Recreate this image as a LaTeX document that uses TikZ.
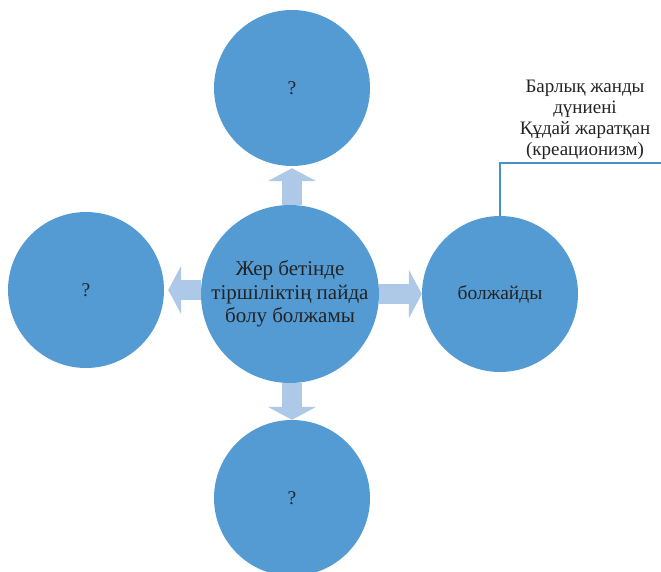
\documentclass[tikz,border=0pt]{standalone}
\usepackage{fontspec}
\setmainfont{Liberation Serif}
\usetikzlibrary{positioning}
\usetikzlibrary{arrows.meta}

\definecolor{ballblue}{RGB}{84,155,212}
\definecolor{arrowblue}{RGB}{174,200,232}
\definecolor{lineblue}{RGB}{74,144,200}
\definecolor{textgray}{RGB}{35,35,35}

\begin{document}
\begin{tikzpicture}[x=1pt, y=-1pt,
    ball/.style={circle, fill=ballblue, minimum size=156pt, inner sep=0pt,
      text=textgray, align=center, font=\fontsize{19.5}{23.5}\selectfont},
    bigball/.style={ball, minimum size=178pt, font=\fontsize{21}{23.5}\selectfont},
    fatarrow/.style={arrowblue, line width=20pt,
      -{Triangle[width=48pt,length=13pt]}},
    bracketline/.style={lineblue, line width=1.3pt}]

        \clip (0,0) rectangle (661,572);

        % circles
        \node[bigball] (centre) at (290, 294) {Жер бетінде\\тіршіліктің пайда\\болу болжамы};

        \node[ball] (top) at (292, 88) {?};

        \node[ball] (left) at (86, 290) {?};

        \node[ball] (right) at (500, 294) {болжайды};

        \node[ball] (bottom) at (292, 498) {?};

        % block arrows
        \draw[fatarrow, shorten >=2pt] (centre.north -| top.south) -- (top.south);
        \draw[fatarrow, shorten >=4pt] (centre.west |- left.east) -- (left.east);
        \draw[fatarrow] (centre.east) -- (centre.east -| right.west);
        \draw[fatarrow] (centre.south -| bottom.north) -- (bottom.north);

        % note
        \node[text=textgray, align=center, font=\fontsize{19}{21}\selectfont] (note) at (585, 120)
          {Барлық жанды\\дүниені\\Құдай жаратқан\\(креационизм)};

        \coordinate (edge) at (661, 163);
        \draw[bracketline] (right.north) |- (edge);

\end{tikzpicture}
\end{document}
